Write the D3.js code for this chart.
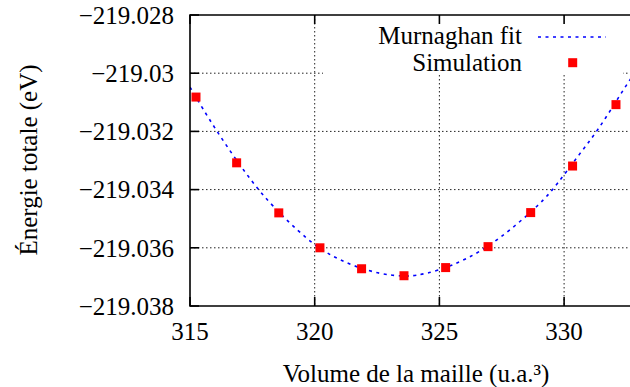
<!DOCTYPE html>
<html>
<head>
<meta charset="utf-8">
<script src="https://cdn.jsdelivr.net/npm/d3@7"></script>
<style>
  html, body { margin: 0; padding: 0; background: #fff; }
  svg { display: block; }
</style>
</head>
<body>
<svg id="chart" width="630" height="387" font-family="'Liberation Serif', 'Times New Roman', Times, serif"></svg>
<script>
// Simulated total energy per cell volume
const volumes = [315.24, 316.87, 318.56, 320.21, 321.88, 323.58, 325.25, 326.95, 328.66, 330.34, 332.08];
const energies = [-219.03082, -219.03308, -219.0348, -219.0360, -219.03672, -219.03696, -219.03668, -219.03596, -219.03479, -219.03319, -219.03108];

// Murnaghan equation-of-state fit, sampled along the volume axis
const fitVolumes = [315.0, 316.0, 317.27, 318.24, 319.78, 320.61, 321.55, 322.69, 323.6, 324.02, 324.89, 326.09, 327.36, 329.10, 329.70, 330.64, 331.37, 332.24, 332.64, 333.2];
const fitEnergies = [-219.03048, -219.03192, -219.0335, -219.03453, -219.03579, -219.03625, -219.03663, -219.03692, -219.03698, -219.03696, -219.03681, -219.0364, -219.03575, -219.03446, -219.03384, -219.03275, -219.03195, -219.03075, -219.03023, -219.0295];

// Axis ticks
const xTicks = [315, 320, 325, 330];
const yTicks = [-219.038, -219.036, -219.034, -219.032, -219.03, -219.028];
const yTickLabels = ["\u2212219.038", "\u2212219.036", "\u2212219.034", "\u2212219.032", "\u2212219.03", "\u2212219.028"];
const seriesNames = ["Murnaghan fit", "Simulation"];

const svg = d3.select("#chart");
const plotL = 190, plotT = 15, plotB = 306, plotR = 688.8;
const fontSize = 25;

const x = d3.scaleLinear().domain([315, 335]).range([plotL, plotR]);
const y = d3.scaleLinear().domain([-219.038, -219.028]).range([plotB, plotT]);

// Grid
const grid = svg.append("g").attr("stroke", "#222").attr("stroke-width", 1)
  .attr("stroke-dasharray", "1.5,2.5").attr("fill", "none");
xTicks.filter(t => t > 315).forEach(t => {
  grid.append("line").attr("x1", x(t)).attr("x2", x(t)).attr("y1", plotT).attr("y2", plotB);
});
yTicks.filter(t => t > -219.038 && t < -219.028).forEach(t => {
  grid.append("line").attr("x1", plotL).attr("x2", plotR).attr("y1", y(t)).attr("y2", y(t));
});

// Legend background hides the grid behind the key
svg.append("rect").attr("x", 323).attr("y", plotT + 1).attr("width", 300).attr("height", 59).attr("fill", "#fff");

// Fit curve
svg.append("clipPath").attr("id", "plotclip")
  .append("rect").attr("x", plotL).attr("y", plotT).attr("width", plotR - plotL).attr("height", plotB - plotT);

const fitData = fitVolumes.map((v, i) => [v, fitEnergies[i]]);
svg.append("path")
  .attr("clip-path", "url(#plotclip)")
  .datum(fitData)
  .attr("fill", "none")
  .attr("stroke", "#0000ff")
  .attr("stroke-width", 1.6)
  .attr("stroke-dasharray", "3,4.5")
  .attr("d", d3.line().x(d => x(d[0])).y(d => y(d[1])).curve(d3.curveBasis));

// Simulation points
const sq = 9;
svg.append("g").selectAll("rect")
  .data(volumes.map((v, i) => [v, energies[i]]))
  .join("rect")
  .attr("x", d => x(d[0]) - sq / 2)
  .attr("y", d => y(d[1]) - sq / 2)
  .attr("width", sq).attr("height", sq)
  .attr("fill", "#ff0000");

// Border and inward ticks
const axes = svg.append("g").attr("stroke", "#000").attr("stroke-width", 1.6).attr("fill", "none");
axes.append("path").attr("d", `M${plotR},${plotT}H${plotL}V${plotB}H${plotR}`);
const tickLen = 9;
yTicks.forEach(t => {
  axes.append("line").attr("x1", plotL).attr("x2", plotL + tickLen).attr("y1", y(t)).attr("y2", y(t));
});
xTicks.forEach(t => {
  axes.append("line").attr("x1", x(t)).attr("x2", x(t)).attr("y1", plotB).attr("y2", plotB - tickLen);
  axes.append("line").attr("x1", x(t)).attr("x2", x(t)).attr("y1", plotT).attr("y2", plotT + tickLen);
});

// Tick labels
yTicks.forEach((t, i) => {
  svg.append("text").attr("x", plotL - 16).attr("y", y(t)).attr("dy", "0.35em")
    .attr("text-anchor", "end").attr("font-size", fontSize).text(yTickLabels[i]);
});
xTicks.forEach(t => {
  svg.append("text").attr("x", x(t)).attr("y", 340)
    .attr("text-anchor", "middle").attr("font-size", fontSize).text(String(t));
});

// Axis titles
svg.append("text").attr("x", 416).attr("y", 382).attr("text-anchor", "middle")
  .attr("font-size", fontSize).text("Volume de la maille (u.a.\u00b3)");
svg.append("text").attr("transform", "translate(37,160) rotate(-90)")
  .attr("text-anchor", "middle").attr("font-size", fontSize).text("\u00c9nergie totale (eV)");

// Legend
const legend = svg.append("g");
legend.append("text").attr("x", 522).attr("y", 44).attr("text-anchor", "end")
  .attr("font-size", fontSize).text(seriesNames[0]);
legend.append("line").attr("x1", 538).attr("x2", 606).attr("y1", 37).attr("y2", 37)
  .attr("stroke", "#0000ff").attr("stroke-width", 1.6).attr("stroke-dasharray", "3,4.5");
legend.append("text").attr("x", 522).attr("y", 71).attr("text-anchor", "end")
  .attr("font-size", fontSize).text(seriesNames[1]);
legend.append("rect").attr("x", 572.7 - sq / 2).attr("y", 62.7 - sq / 2)
  .attr("width", sq).attr("height", sq).attr("fill", "#ff0000");
</script>
</body>
</html>
